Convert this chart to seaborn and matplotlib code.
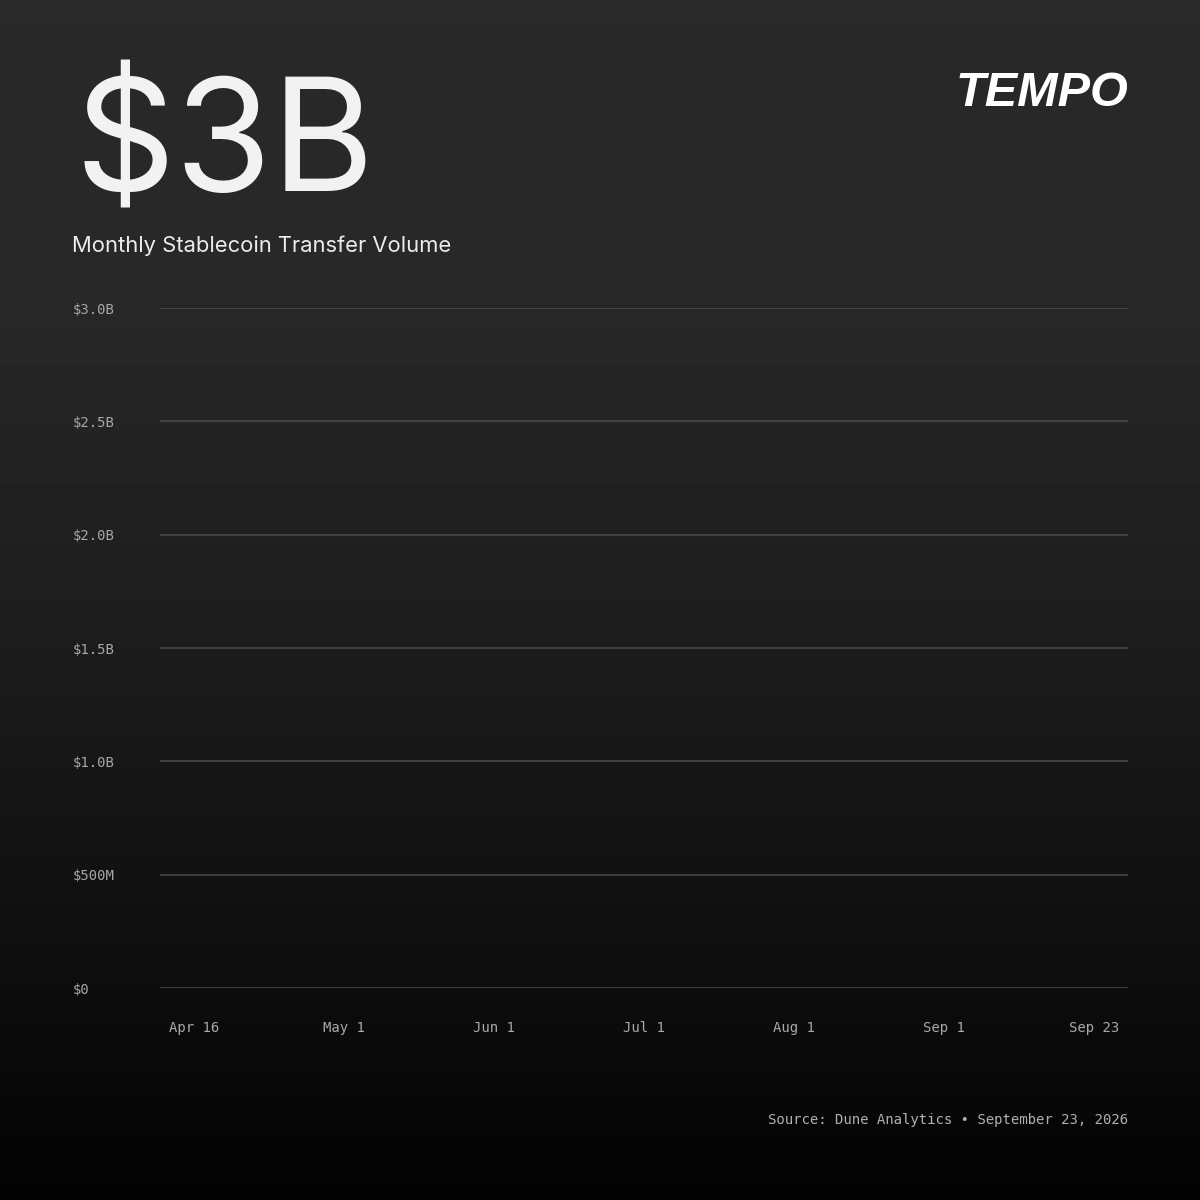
import matplotlib
matplotlib.use("Agg")
import matplotlib.pyplot as plt
import numpy as np
import pandas as pd
import seaborn as sns

# Chart data (the reference shows the empty frame only: axis ticks, no plotted marks)
date_labels = ["Apr 16", "May 1", "Jun 1", "Jul 1", "Aug 1", "Sep 1", "Sep 23"]
volume = [np.nan, np.nan, np.nan, np.nan, np.nan, np.nan, np.nan]
y_ticks = [0, 0.5e9, 1.0e9, 1.5e9, 2.0e9, 2.5e9, 3.0e9]
y_labels = ["$0", "$500M", "$1.0B", "$1.5B", "$2.0B", "$2.5B", "$3.0B"]

headline = "$3B"
subtitle = "Monthly Stablecoin Transfer Volume"
source = "Source: Dune Analytics \u2022 September 23, 2026"

sns.set_theme(style="dark")
plt.rcParams["font.family"] = ["DejaVu Sans"]

fig = plt.figure(figsize=(12, 12), dpi=100)

# background gradient
bg = fig.add_axes([0, 0, 1, 1], zorder=-10)
rows = np.arange(1200)
shade = np.interp(rows, [0, 300, 600, 900, 1200], [42, 40, 30, 17, 3]) / 255.0
grad = np.repeat(shade[:, None], 2, axis=1)
bg.imshow(grad, cmap="gray", vmin=0, vmax=1, aspect="auto", extent=[0, 1, 0, 1])
bg.set_axis_off()

ax = fig.add_axes([160 / 1200, 212 / 1200, 968 / 1200, 680 / 1200])
ax.patch.set_alpha(0)

df = pd.DataFrame({"pos": range(len(date_labels)), "volume": volume})
sns.lineplot(data=df, x="pos", y="volume", ax=ax, color="#ffffff")

ax.set_xlim(-0.227, len(date_labels) - 1 + 0.227)
ax.set_ylim(0, 3.0e9)
ax.set_xticks(range(len(date_labels)))
ax.set_xticklabels(date_labels)
ax.set_yticks(y_ticks)
ax.set_yticklabels(y_labels)
ax.set_xlabel("")
ax.set_ylabel("")

ax.grid(False)
for yv in y_ticks:
    ax.axhline(yv, color="#4c4c4c", lw=1.1, zorder=0)
for s in ax.spines.values():
    s.set_visible(False)

mono = "DejaVu Sans Mono"
ax.tick_params(axis="both", length=0, colors="#a8a8a8", labelsize=10)
ax.tick_params(axis="y", pad=63)
ax.tick_params(axis="x", pad=32)
for lbl in ax.get_yticklabels():
    lbl.set_ha("left")
    lbl.set_fontfamily(mono)
for lbl in ax.get_xticklabels():
    lbl.set_fontfamily(mono)
    lbl.set_va("baseline")

# headline and titles
fig.text(75 / 1200, 1 - 192 / 1200, headline, color="#f2f2f2", fontsize=113,
         family="Inter", fontweight="normal", ha="left", va="baseline")
fig.text(72 / 1200, 1 - 252 / 1200, subtitle, color="#ececec", fontsize=15.8,
         family="Inter", ha="left", va="baseline")
fig.text(1128 / 1200, 1 - 106 / 1200, "TEMPO", color="#ffffff", fontsize=35,
         family="Liberation Sans", fontweight="bold", style="italic",
         ha="right", va="baseline")
fig.text(1128 / 1200, 1 - 1124 / 1200, source, color="#b0b0b0", fontsize=10.1,
         family=mono, ha="right", va="baseline")

fig.savefig("out.png", dpi=100)
